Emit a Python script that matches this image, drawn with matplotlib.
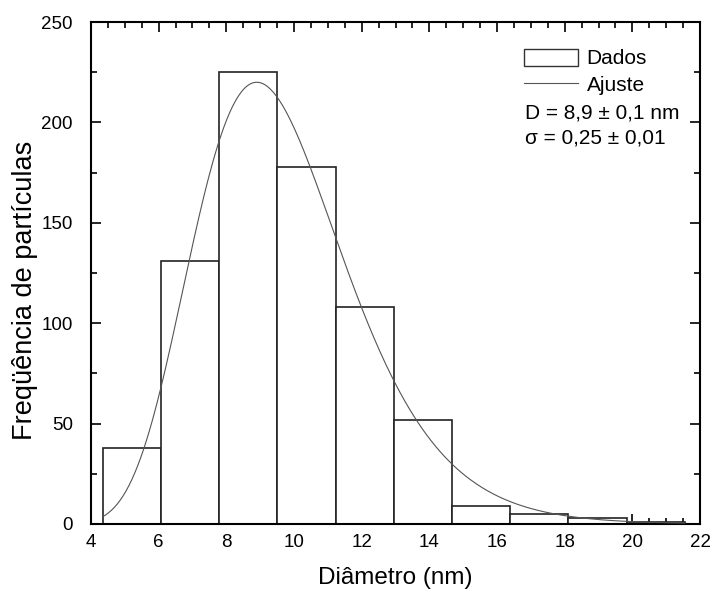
import numpy as np
import matplotlib
matplotlib.use("Agg")
import matplotlib.pyplot as plt
from matplotlib.patches import Rectangle
from matplotlib.lines import Line2D
from matplotlib.ticker import MultipleLocator

plt.rcParams['font.family'] = ['Liberation Sans', 'DejaVu Sans']

# histogram data
bin_edges = [4.35, 6.07, 7.79, 9.51, 11.23, 12.95, 14.67, 16.39, 18.11, 19.83, 21.55]
counts = [38, 131, 225, 178, 108, 52, 9, 5, 3, 1]

# log-normal fit parameters
D = 8.9
sigma = 0.25
peak = 220

fig = plt.figure(figsize=(7.13, 5.92), dpi=100)
ax = fig.add_axes([0.1276, 0.1149, 0.8542, 0.8479])

lefts = np.array(bin_edges[:-1])
widths = np.diff(bin_edges)
ax.bar(lefts, counts, width=widths, align='edge', facecolor='white',
       edgecolor='#222222', linewidth=1.2, zorder=2)

x = np.linspace(bin_edges[0], bin_edges[-1], 400)
y = peak * np.exp(-np.log(x / D) ** 2 / (2 * sigma ** 2))
ax.plot(x, y, color='#555555', linewidth=0.8, zorder=3)

ax.set_xlim(4, 22)
ax.set_ylim(0, 250)
ax.xaxis.set_major_locator(MultipleLocator(2))
ax.xaxis.set_minor_locator(MultipleLocator(0.5))
ax.yaxis.set_major_locator(MultipleLocator(50))
ax.yaxis.set_minor_locator(MultipleLocator(25))
ax.tick_params(which='both', direction='in', top=True, right=True,
               labelsize=13.5, width=1.2)
ax.tick_params(axis='x', pad=7)
ax.tick_params(axis='y', pad=13)
ax.tick_params(which='major', length=7)
ax.tick_params(which='minor', length=4)
for s in ax.spines.values():
    s.set_linewidth(1.5)

ax.set_xlabel("Diâmetro (nm)", fontsize=17.5)
ax.set_ylabel("Freqüência de partículas", fontsize=19.5)
ax.xaxis.set_label_coords(0.5, -0.085)
ax.yaxis.set_label_coords(-0.087, 0.465)

handles = [Rectangle((0, 0), 1, 1, facecolor='white', edgecolor='#333333', linewidth=1),
           Line2D([], [], color='#555555', linewidth=0.8)]
ax.legend(handles, ["Dados", "Ajuste"], loc='upper left', bbox_to_anchor=(0.711, 0.947),
          frameon=False, fontsize=15, handlelength=2.6, handleheight=0.9,
          handletextpad=0.4, labelspacing=0.3, borderpad=0, borderaxespad=0)
ax.text(0.713, 0.818, "D = 8,9 ± 0,1 nm", transform=ax.transAxes, fontsize=15, va='center')
ax.text(0.713, 0.768, "σ = 0,25 ± 0,01", transform=ax.transAxes, fontsize=15, va='center')

fig.savefig("out.png", dpi=100)
